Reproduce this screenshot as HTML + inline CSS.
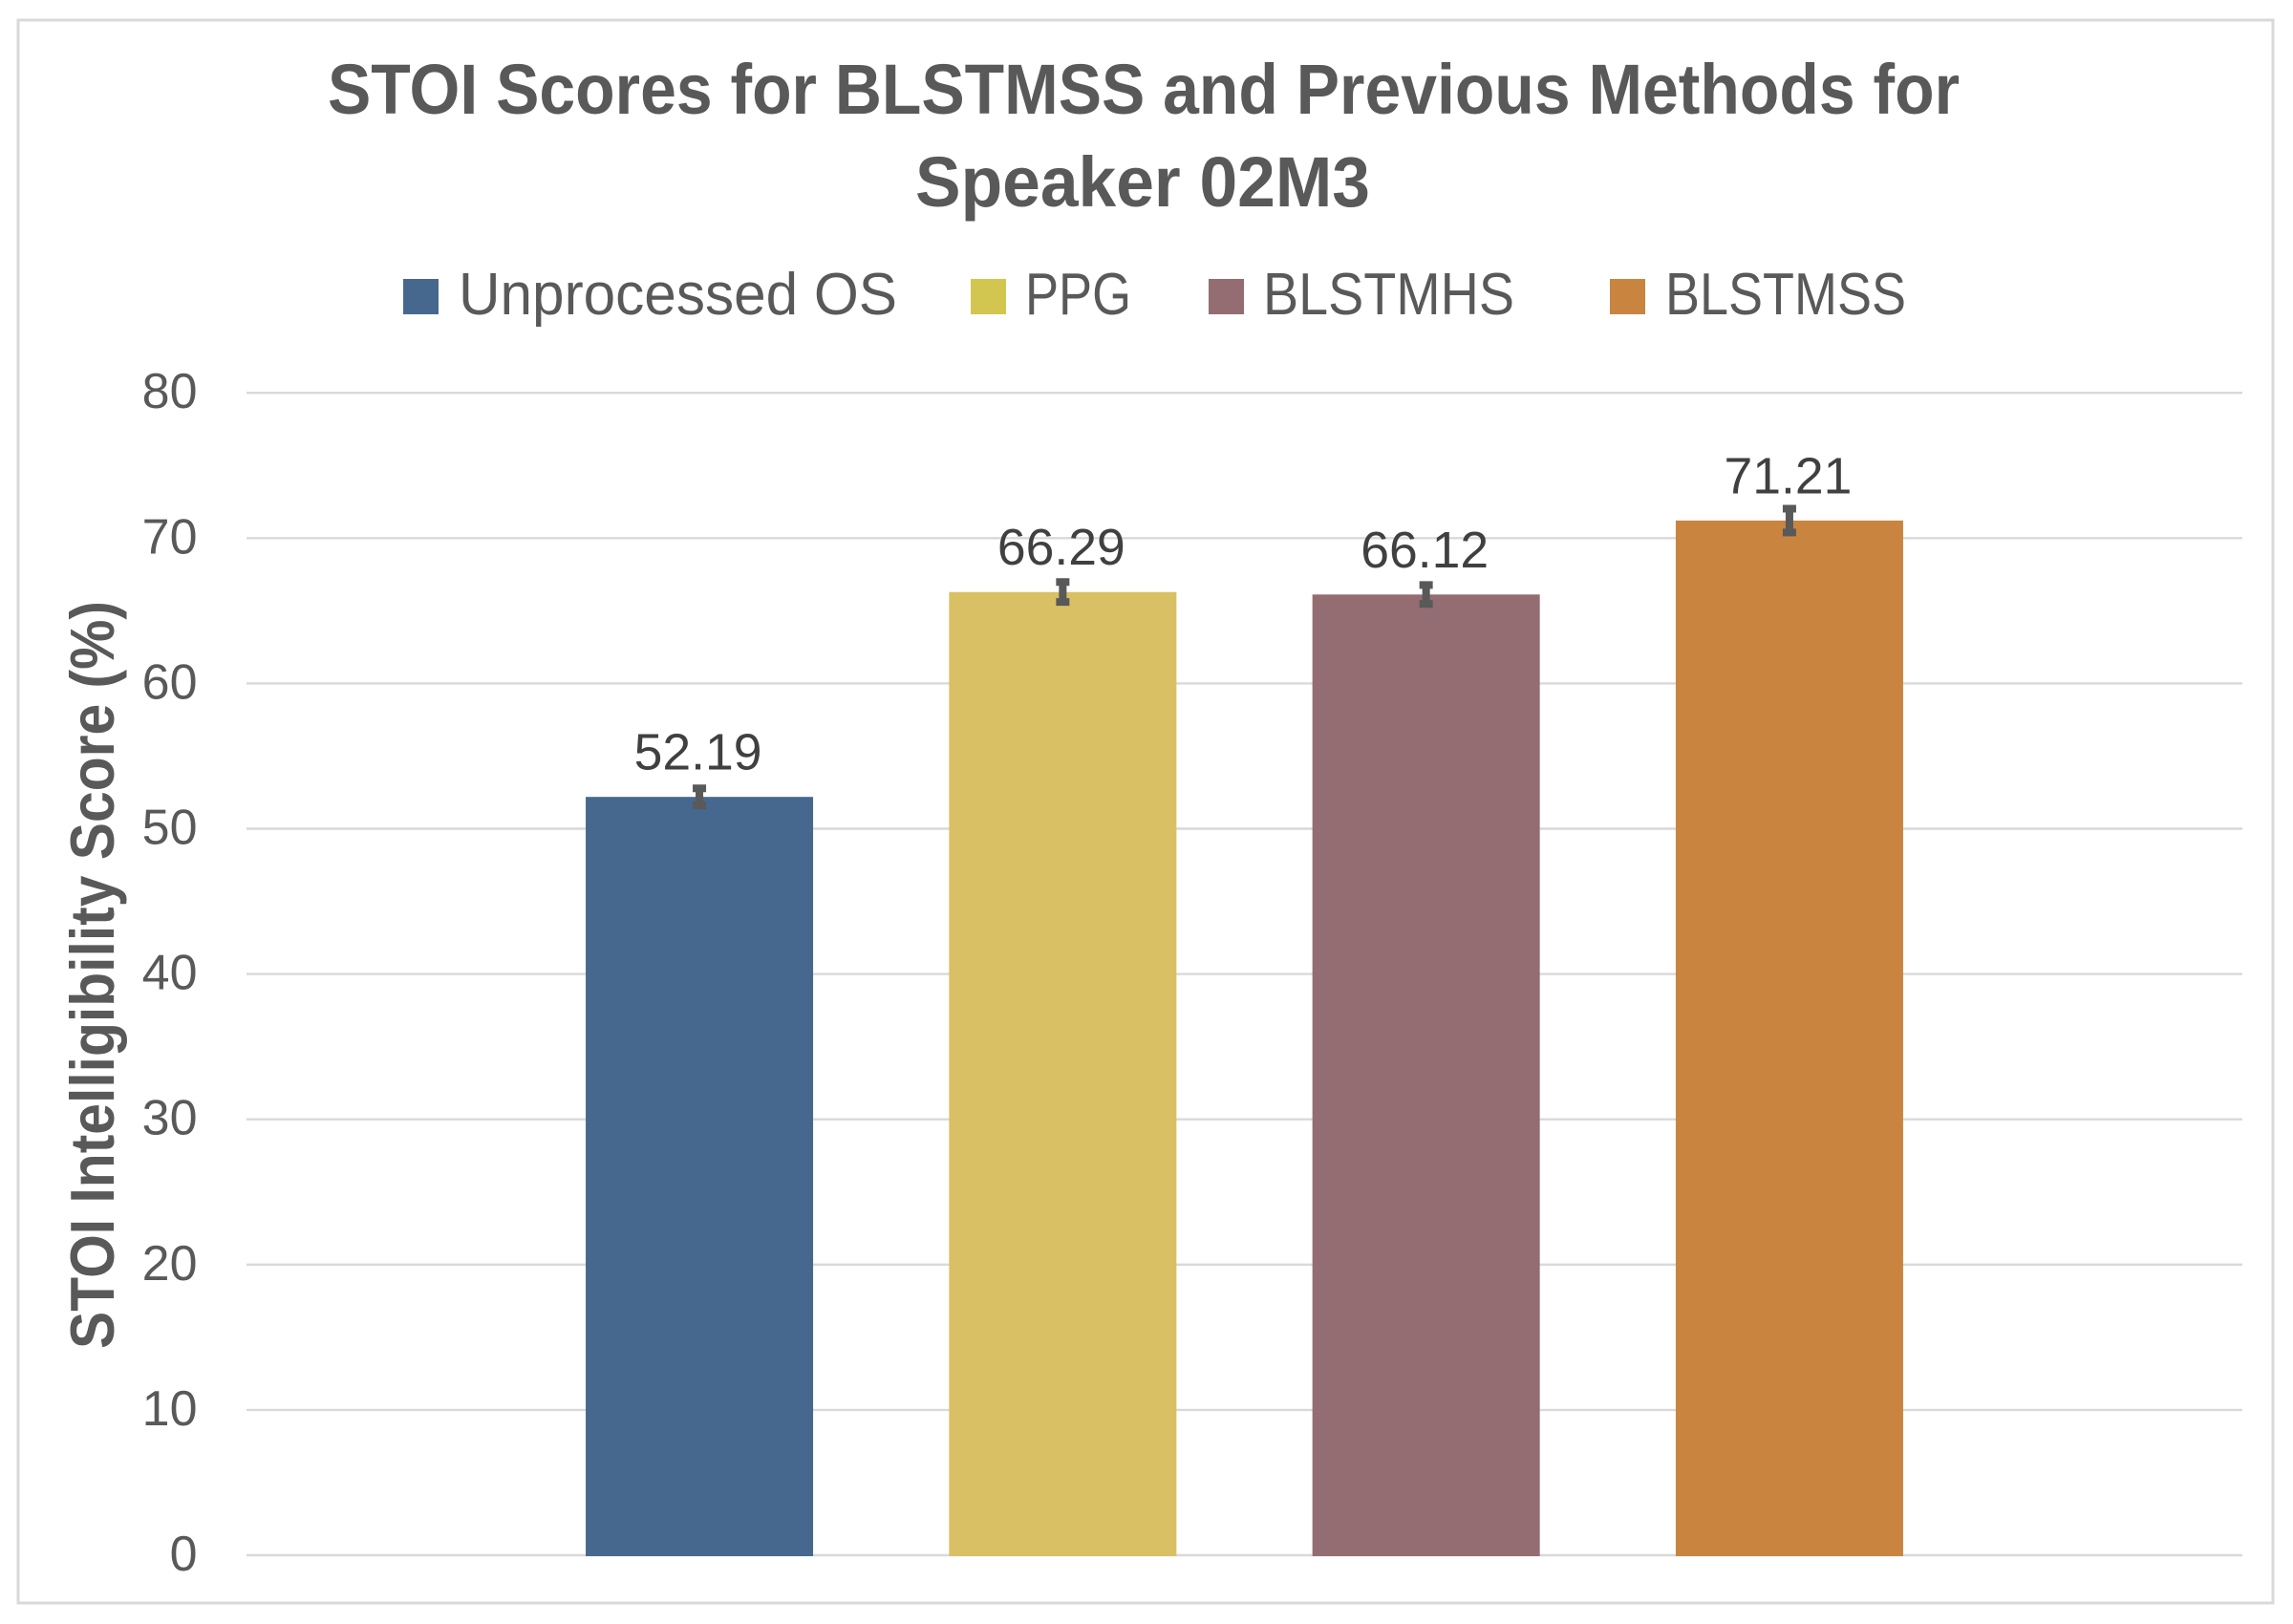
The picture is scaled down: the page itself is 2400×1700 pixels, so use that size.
<!DOCTYPE html>
<html lang="en">
<head>
<meta charset="utf-8">
<title>STOI Scores for BLSTMSS and Previous Methods for Speaker 02M3</title>
<style>
html,body{margin:0;padding:0;background:#fff;width:2400px;height:1700px;overflow:hidden}
svg{display:block}
text{font-family:"Liberation Sans",sans-serif}
</style>
</head>
<body>
<svg id="chart" xmlns="http://www.w3.org/2000/svg" width="2400" height="1700" viewBox="0 0 2400 1700">
  <rect x="19" y="21" width="2360" height="1657" fill="#ffffff" stroke="#d9d9d9" stroke-width="3"/>
  <text x="343" y="119" font-size="74" font-weight="700" fill="#595959" textLength="1708" lengthAdjust="spacingAndGlyphs">STOI Scores for BLSTMSS and Previous Methods for</text>
  <text x="958" y="216" font-size="74" font-weight="700" fill="#595959" textLength="476" lengthAdjust="spacingAndGlyphs">Speaker 02M3</text>
  <g>
    <rect x="422" y="292" width="37" height="37" fill="#46688f"/>
    <text x="480" y="329" font-size="62" fill="#595959" textLength="459" lengthAdjust="spacingAndGlyphs">Unprocessed OS</text>
    <rect x="1016" y="292" width="37" height="37" fill="#d2c650"/>
    <text x="1073" y="329" font-size="62" fill="#595959" textLength="111" lengthAdjust="spacingAndGlyphs">PPG</text>
    <rect x="1265" y="292" width="37" height="37" fill="#936d71"/>
    <text x="1322" y="329" font-size="62" fill="#595959" textLength="263" lengthAdjust="spacingAndGlyphs">BLSTMHS</text>
    <rect x="1685" y="292" width="37" height="37" fill="#c9853f"/>
    <text x="1743" y="329" font-size="62" fill="#595959" textLength="252" lengthAdjust="spacingAndGlyphs">BLSTMSS</text>
  </g>
  <text transform="translate(119,1412) rotate(-90)" x="0" y="0" font-size="65" font-weight="700" fill="#595959" textLength="783" lengthAdjust="spacingAndGlyphs">STOI Intelligibility Score (%)</text>
  <g id="grid"></g>
  <g id="ticks"></g>
  <g id="bars"></g>
  <g id="errors"></g>
  <g id="labels"></g>
</svg>
<script>
const categories = ['Unprocessed OS', 'PPG', 'BLSTMHS', 'BLSTMSS'];
const scores = [52.19, 66.29, 66.12, 71.21];
const errors = [0.85, 0.95, 0.92, 1.08];
const barColors = ['#46688f', '#dac064', '#936d71', '#c9853f'];
const yTicks = [0, 10, 20, 30, 40, 50, 60, 70, 80];

const NS = 'http://www.w3.org/2000/svg';
const plot = { left: 258, right: 2347, baseline: 1628, pxPerUnit: 15.21, pitch: 380.3, barWidth: 238 };
function yScale(v) { return plot.baseline - v * plot.pxPerUnit; }
function xCenter(i) { return (plot.left + plot.right) / 2 + (i - (categories.length - 1) / 2) * plot.pitch; }
function make(tag, attrs, parent) {
  const el = document.createElementNS(NS, tag);
  for (const k in attrs) el.setAttribute(k, attrs[k]);
  parent.appendChild(el);
  return el;
}
const gridG = document.getElementById('grid');
const ticksG = document.getElementById('ticks');
const barsG = document.getElementById('bars');
const errorsG = document.getElementById('errors');
const labelsG = document.getElementById('labels');

yTicks.forEach(function (t) {
  const line = make('line', { x1: plot.left, x2: plot.right, y1: yScale(t), y2: yScale(t), stroke: '#d9d9d9', 'stroke-width': 2.4 }, gridG);
  
  
  const label = make('text', { x: 206.5, y: yScale(t) + 16, 'text-anchor': 'end', 'font-size': 52, fill: '#595959' }, ticksG);
  label.textContent = String(t);
  
  
});

scores.forEach(function (v, i) {
  const cx = xCenter(i);
  const top = yScale(v);
  const bar = make('rect', { x: cx - plot.barWidth / 2, y: top, width: plot.barWidth, height: plot.baseline - top + 1, fill: barColors[i] }, barsG);
  
  

  const hi = yScale(v + errors[i]);
  const lo = yScale(v - errors[i]);
  const err = make('path', {
    d: 'M' + cx + ' ' + hi + 'V' + lo + 'M' + (cx - 7) + ' ' + (hi + 4) + 'H' + (cx + 7) + 'M' + (cx - 7) + ' ' + (lo - 4) + 'H' + (cx + 7),
    fill: 'none', stroke: '#595959'
  }, errorsG);
  err.setAttribute('stroke-width', '8');
  
  

  const label = make('text', { x: cx - 1.5, y: top - 28.5, 'text-anchor': 'middle', 'font-size': 53.5, fill: '#404040' }, labelsG);
  label.textContent = v.toFixed(2);
  
  
});
</script>
</body>
</html>
